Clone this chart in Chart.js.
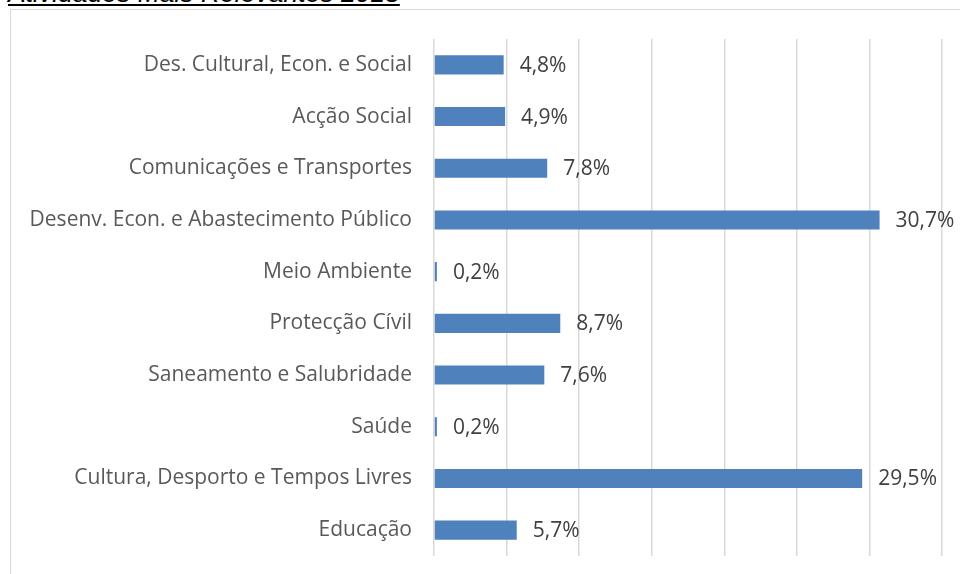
<!DOCTYPE html>
<html lang="pt">
<head>
  <meta charset="UTF-8">
  <title>Atividades Mais Relevantes 2018</title>
  <script src="https://cdn.jsdelivr.net/npm/chart.js"></script>
  <style>
    body {
      margin: 0;
      width: 960px;
      height: 574px;
      overflow: hidden;
      background: #fff;
      position: relative;
    }
    .title {
      position: absolute;
      left: 8px;
      top: -22px;
      font-family: 'Liberation Sans', Arial, sans-serif;
      font-style: italic;
      text-decoration: underline;
      font-size: 26.5px;
      color: #000;
      white-space: nowrap;
    }
    .frame {
      position: absolute;
      left: 10px;
      top: 9px;
      width: 1000px;
      height: 700px;
      border-top: 1px solid #d9d9d9;
      border-left: 1px solid #d9d9d9;
    }
    .wrap {
      position: absolute;
      left: 0;
      top: 0;
      width: 960px;
      height: 574px;
    }
  </style>
</head>
<body>
  <div class="title">Atividades Mais Relevantes 2018</div>
  <div class="frame"></div>
  <div class="wrap"><canvas id="chart"></canvas></div>

  <script>
    // dados
    const categorias = [
      'Des. Cultural, Econ. e Social',
      'Acção Social',
      'Comunicações e Transportes',
      'Desenv. Econ. e Abastecimento Público',
      'Meio Ambiente',
      'Protecção Cívil',
      'Saneamento e Salubridade',
      'Saúde',
      'Cultura, Desporto e Tempos Livres',
      'Educação'
    ];
    const valores = [4.8, 4.9, 7.8, 30.7, 0.2, 8.7, 7.6, 0.2, 29.5, 5.7];
    const eixoMax = 35;
    const passo = 5;

    // rótulos de valor à direita das barras
    const rotulos = {
      id: 'rotulos',
      afterDatasetsDraw(chart) {
        const ctx = chart.ctx;
        const meta = chart.getDatasetMeta(0);
        ctx.save();
        ctx.font = '21px "Open Sans", sans-serif';
        ctx.fillStyle = '#404040';
        ctx.textBaseline = 'middle';
        ctx.textAlign = 'left';
        meta.data.forEach((bar, i) => {
          const txt = valores[i].toFixed(1).replace('.', ',') + '%';
          ctx.fillText(txt, bar.x + 16, bar.y + 1);
        });
        ctx.restore();
      }
    };

    new Chart(document.getElementById('chart'), {
      type: 'bar',
      data: {
        labels: categorias,
        datasets: [{
          data: valores,
          backgroundColor: '#4f81bd',
          barPercentage: 0.37,
          categoryPercentage: 1
        }]
      },
      options: {
        indexAxis: 'y',
        responsive: true,
        maintainAspectRatio: false,
        animation: false,
        layout: { padding: { left: 0, right: 18, top: 39, bottom: 18 } },
        plugins: {
          legend: { display: false },
          tooltip: { enabled: false }
        },
        scales: {
          x: {
            min: 0,
            max: eixoMax,
            afterFit(s) { s.height = 0; s.paddingLeft = 0; s.paddingRight = 0; },
            ticks: { display: false, stepSize: passo },
            grid: { color: '#d9d9d9', lineWidth: 1.5, drawTicks: false },
            border: { display: false }
          },
          y: {
            afterFit(s) { s.width = 434; s.paddingTop = 0; s.paddingBottom = 0; },
            ticks: {
              color: '#595959',
              font: { family: 'Open Sans', size: 21 },
              padding: 22
            },
            grid: { display: false, drawTicks: false },
            border: { display: false }
          }
        }
      },
      plugins: [rotulos]
    });
  </script>
</body>
</html>
